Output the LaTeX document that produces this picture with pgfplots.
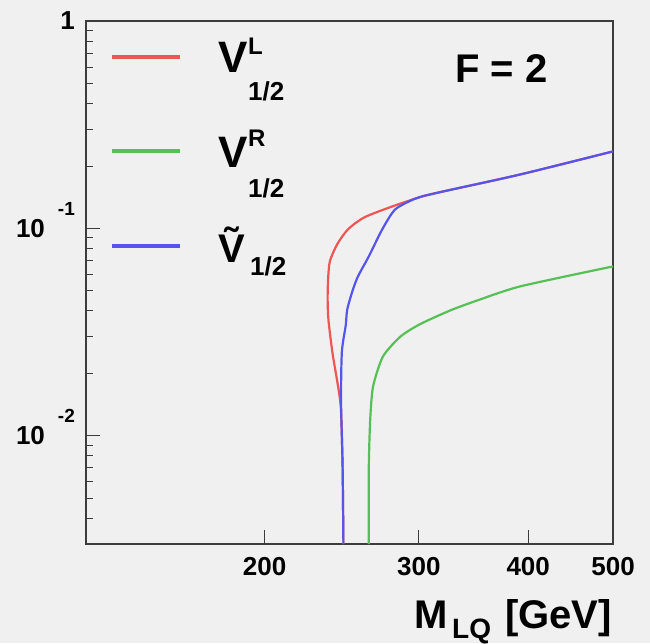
\documentclass[border=0pt]{standalone}
\usepackage{pgfplots}
\pgfplotsset{compat=1.18}
\usepackage{fontspec}
\setmainfont{Liberation Sans}
\definecolor{bg}{RGB}{241,240,240}
\definecolor{cred}{RGB}{238,85,85}
\definecolor{cgreen}{RGB}{85,192,85}
\definecolor{cblue}{RGB}{85,85,235}
\definecolor{frame}{RGB}{60,60,60}
\newcommand{\fs}[1]{\fontsize{#1}{#1}\selectfont}
\begin{document}
\begin{tikzpicture}
\fill[bg] (-86pt,-99pt) rectangle (564pt,544pt);
\begin{axis}[
  scale only axis, width=527pt, height=523pt,
  xmode=log, ymode=log,
  xmin=125, xmax=500, ymin=0.003, ymax=1,
  axis line style={frame, line width=1.4pt},
  tick align=inside,
  xtick pos=bottom, ytick pos=left,
  xtick={200,300,400,500}, xticklabels={200,300,400,500},
  minor xtick={},
  ytick={0.01,0.1,1},
  yticklabels={{10\hspace{13pt}\raisebox{22pt}[0pt][0pt]{\fs{19}-2}},{10\hspace{13pt}\raisebox{22pt}[0pt][0pt]{\fs{19}-1}},{1\hspace{20pt}}},
  minor ytick={0.003,0.004,0.005,0.006,0.007,0.008,0.009,0.02,0.03,0.04,0.05,0.06,0.07,0.08,0.09,0.2,0.3,0.4,0.5,0.6,0.7,0.8,0.9},
  major tick length=14pt, minor tick length=7pt,
  tick style={frame, line width=0.8pt},
  xticklabel style={font=\fs{26}\bfseries, yshift=-10pt},
  yticklabel style={font=\fs{26}\bfseries, anchor=east, inner sep=0pt, xshift=-11pt},
]
\addplot[cred, line width=2.2pt, smooth, tension=0.45] coordinates {
(246,0.003) (245.5,0.007) (244.5,0.013) (243,0.0165) (239,0.0252) (236.5,0.0363) (236,0.0454) (236.3,0.0567) (237.4,0.0693) (242,0.0837) (249,0.0989) (260,0.113) (280,0.1277) (297,0.139) (303,0.1428) (323,0.152) (392,0.182) (500,0.235)};
\addplot[cgreen, line width=2.2pt, smooth, tension=0.4] coordinates {
(263,0.003) (263,0.007) (264,0.012) (266,0.0173) (273,0.0241) (286,0.0301) (301,0.0345) (326,0.0402) (350,0.0449) (392,0.0525) (500,0.0655)};
\addplot[cblue, line width=2.2pt, smooth, tension=0.45] coordinates {
(246,0.003) (245.5,0.007) (244.5,0.0144) (245,0.0252) (247.5,0.034) (248.5,0.0406) (252,0.05) (255.6,0.0586) (263,0.0732) (272.5,0.0989) (282,0.1235) (297,0.139) (303,0.1428) (323,0.152) (392,0.182) (500,0.235)};
\end{axis}
% legend samples
\draw[cred, line width=3.5pt] (26pt,487pt) -- (94pt,487pt);
\draw[cgreen, line width=3.5pt] (26pt,393pt) -- (94pt,393pt);
\draw[cblue, line width=3.5pt] (26pt,298pt) -- (94pt,298pt);
\begin{scope}[every node/.style={inner sep=0pt, anchor=base west, font=\bfseries}]
\node at (132pt,471pt) {\fs{44}V};
\node at (162pt,489pt) {\fs{24}L};
\node at (162pt,443pt) {\fs{26}1/2};
\node at (132pt,377pt) {\fs{44}V};
\node at (162pt,397pt) {\fs{24}R};
\node at (162pt,347pt) {\fs{26}1/2};
\node at (132pt,282pt) {\fs{40}\~{V}};
\node at (164pt,269pt) {\fs{26}1/2};
\node at (369pt,461pt) {\fs{40}F = 2};
\end{scope}
\node[inner sep=0pt, anchor=base east, font=\bfseries] at (526pt,-84pt)
  {\fs{40}M\hspace{4pt}\raisebox{-10pt}{\fs{28}LQ}\hspace{14pt}[GeV]};
\end{tikzpicture}
\end{document}
